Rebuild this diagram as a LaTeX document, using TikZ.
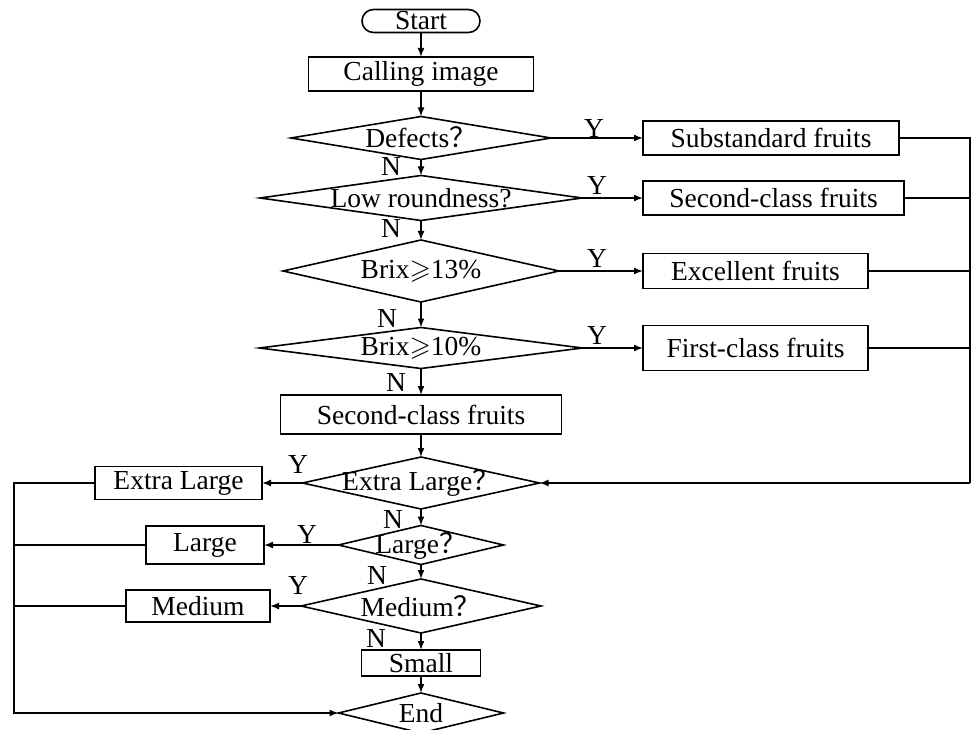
\documentclass[tikz,border=0pt]{standalone}
\usepackage{fontspec}
\setmainfont{Liberation Serif}
\newfontfamily\cjk{Noto Sans CJK SC}
\usepackage{amssymb}
\usetikzlibrary{shapes.geometric,arrows.meta}
\newcommand{\fq}{{\cjk ？}}
\begin{document}
\begin{tikzpicture}[x=1pt,y=-1pt,
  line width=1.6pt,
  txt/.style={font=\fontsize{27.5}{31}\selectfont, inner sep=0pt},
  box/.style={draw, inner sep=0pt, outer sep=0pt, font=\fontsize{27.5}{31}\selectfont},
  dia/.style={draw, diamond, inner sep=0pt, outer sep=0pt},
  arr/.style={-{Latex[length=9pt,width=7pt]}},
  lab/.style={font=\fontsize{27.5}{31}\selectfont, inner sep=0pt}]
\useasboundingbox (0,0) rectangle (972,730);

% main column
\node[box, rounded corners=11.5pt, minimum width=118pt, minimum height=23pt] (start) at (421,21) {Start};
\node[box, minimum width=225pt, minimum height=34pt] (call) at (421,74) {Calling image};
\node[dia, minimum width=260pt, minimum height=43pt] (d1) at (421,138) {};
\node[txt] (d1t) at (421,137) {Defects\fq};
\node[dia, minimum width=322pt, minimum height=45pt] (d2) at (421,198) {};
\node[txt] (d2t) at (421,198) {Low roundness?};
\node[dia, minimum width=276pt, minimum height=62pt] (d3) at (421,271) {};
\node[txt] (d3t) at (421,271) {Brix$\geqslant$13\%};
\node[dia, minimum width=323pt, minimum height=41pt] (d4) at (421,348) {};
\node[txt] (d4t) at (421,348) {Brix$\geqslant$10\%};
\node[box, minimum width=281pt, minimum height=39pt] (sec2) at (421,414.5) {Second-class fruits};
\node[dia, minimum width=237pt, minimum height=52pt] (d5) at (421,483) {};
\node[txt] (d5t) at (421,483) {Extra Large\fq};
\node[dia, minimum width=165pt, minimum height=39pt] (d6) at (421,545) {};
\node[txt] (d6t) at (421,546) {Large\fq};
\node[dia, minimum width=240pt, minimum height=54pt] (d7) at (421,606) {};
\node[txt] (d7t) at (421,606) {Medium\fq};
\node[box, minimum width=119pt, minimum height=26pt] (small) at (421,663) {Small};
\node[dia, minimum width=165pt, minimum height=40pt] (end) at (421,713) {};
\node[txt] (endt) at (421,713) {End};

% right boxes
\node[box, minimum width=256pt, minimum height=34pt] (sub) at (771,138) {Substandard fruits};
\node[box, minimum width=261pt, minimum height=34pt] (sec1) at (773.5,198) {Second-class fruits};
\node[box, minimum width=225pt, minimum height=35pt] (exc) at (755.5,271) {Excellent fruits};
\node[box, minimum width=225pt, minimum height=45pt] (first) at (755.5,348) {First-class fruits};

% left boxes
\node[box, minimum width=167pt, minimum height=33pt] (xl) at (178.5,483) {Extra Large};
\node[box, minimum width=118pt, minimum height=38pt] (lg) at (205,545) {Large};
\node[box, minimum width=144pt, minimum height=32pt] (md) at (198,606) {Medium};

\coordinate (rr) at (970,483);
\coordinate (ll) at (14,713);

% main vertical arrows
\draw[arr] (start) -- (call);
\draw[arr] (call) -- (d1.north);
\draw[arr] (d1.south) -- (d2.north);
\draw[arr] (d2.south) -- (d3.north);
\draw[arr] (d3.south) -- (d4.north);
\draw[arr] (d4.south) -- (sec2.north);
\draw[arr] (sec2.south) -- (d5.north);
\draw[arr] (d5.south) -- (d6.north);
\draw[arr] (d6.south) -- (d7.north);
\draw[arr] (d7.south) -- (small.north);
\draw[arr] (small.south) -- (end.north);

% yes branches right
\draw[arr] (d1.east) -- (sub.west);
\draw[arr] (d2.east) -- (sec1.west);
\draw[arr] (d3.east) -- (exc.west);
\draw[arr] (d4.east) -- (first.west);

% return lines right
\draw (sub.east) -| (rr);
\draw (sec1.east) -- (sec1.east -| rr);
\draw (exc.east) -- (exc.east -| rr);
\draw (first.east) -- (first.east -| rr);
\draw[arr] (rr) -- (d5.east);

% yes branches left
\draw[arr] (d5.west) -- (xl.east);
\draw[arr] (d6.west) -- (lg.east);
\draw[arr] (d7.west) -- (md.east);

% return lines left
\draw[arr] (xl.west) -| (ll) -- (end.west);
\draw (lg.west) -- (lg.west -| ll);
\draw (md.west) -- (md.west -| ll);

% labels
\node[lab] (y1) at (594,128) {Y};
\node[lab] (y2) at (597,185) {Y};
\node[lab] (y3) at (597,258) {Y};
\node[lab] (y4) at (597,335) {Y};
\node[lab] (y5) at (298,464) {Y};
\node[lab] (y6) at (307,534) {Y};
\node[lab] (y7) at (298,585) {Y};
\node[lab] (n1) at (391,166) {N};
\node[lab] (n2) at (391,228) {N};
\node[lab] (n3) at (387,318) {N};
\node[lab] (n4) at (396,382) {N};
\node[lab] (n5) at (393,519) {N};
\node[lab] (n6) at (377,575) {N};
\node[lab] (n7) at (376,638) {N};
\end{tikzpicture}
\end{document}
